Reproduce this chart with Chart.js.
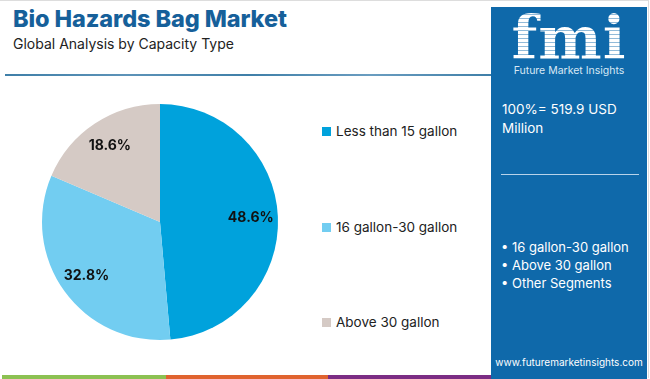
<!DOCTYPE html>
<html>
<head>
<meta charset="utf-8">
<script src="https://cdn.jsdelivr.net/npm/chart.js@4.4.1/dist/chart.umd.min.js"></script>
<style>
  html, body { margin:0; padding:0; background:#fff; }
  body { width:650px; height:379px; position:relative; overflow:hidden; font-family:"Inter","Open Sans",sans-serif; }
  #frame { position:absolute; left:0; top:0; width:648px; height:377px; border-top:1px solid #ddd; border-right:1px solid #ddd; }
  #title { position:absolute; left:13px; top:4px; font-size:23.5px; font-weight:800; color:#16609a; letter-spacing:-0.1px; }
  #subtitle { position:absolute; left:13px; top:35px; font-size:14px; color:#222; }
  #hline { position:absolute; left:5px; top:74px; width:486px; height:2px; background:linear-gradient(90deg,#3f7fa8,#5d93b8,#3f7fa8,#6a9dc0,#3f7fa8); }
  #chartwrap { position:absolute; left:0; top:100px; width:320px; height:244px; }
  #legend { position:absolute; left:322px; top:0; }
  .li { position:absolute; left:0; white-space:nowrap; font-size:13.5px; color:#222; }
  .li span.sw { display:inline-block; width:9px; height:9px; margin-right:5px; vertical-align:0px; }
  #panel { position:absolute; left:491px; top:7px; width:156px; height:372px; background:#0f69aa; color:#fff; }
  #logo { position:absolute; left:0; width:156px; top:0px; text-align:center; font-family:"DejaVu Serif",serif; font-weight:bold; font-size:60px; line-height:62px; letter-spacing:1px;
          background:repeating-linear-gradient(180deg,#fff 0 3px,rgba(255,255,255,0.55) 3px 4px); -webkit-background-clip:text; background-clip:text; color:transparent; }
  #logosub { position:absolute; left:0; width:156px; top:57px; text-align:center; font-size:10.5px; color:#d8e8f5; }
  #total { position:absolute; left:11px; top:93px; font-size:13.5px; line-height:19px; color:#fff; }
  #pline { position:absolute; left:10px; top:167px; width:138px; height:1px; background:#b8d3ea; }
  #segs { position:absolute; left:10px; top:231px; font-size:13px; line-height:18px; color:#fff; }
  #url { position:absolute; left:0; width:156px; top:349px; text-align:center; font-size:10px; color:#fff; }
  .strip { position:absolute; top:375px; height:4px; }
</style>
</head>
<body>
<div id="frame"></div>
<div id="title">Bio Hazards Bag Market</div>
<div id="subtitle">Global Analysis by Capacity Type</div>
<div id="hline"></div>
<div id="chartwrap"><canvas id="c"></canvas></div>
<div id="legend"></div>
<div id="panel">
  <div id="logo">fmi</div>
  <div id="logosub">Future Market Insights</div>
  <div id="total">100%= 519.9 USD<br>Million</div>
  <div id="pline"></div>
  <div id="segs"></div>
  <div id="url">www.futuremarketinsights.com</div>
</div>
<div class="strip" style="left:2px;width:164px;background:#8cc152;"></div>
<div class="strip" style="left:166px;width:162px;background:#e0632f;"></div>
<div class="strip" style="left:328px;width:163px;background:#7b2d84;"></div>
<script>
const categories = ["Less than 15 gallon", "16 gallon-30 gallon", "Above 30 gallon"];
const shares = [48.6, 32.8, 18.6];
const colors = ["#00a2dc", "#72cdf1", "#d5cac5"];
const otherSegments = ["16 gallon-30 gallon", "Above 30 gallon", "Other Segments"];

// legend
const legendTops = [123, 219, 314];
const lg = document.getElementById('legend');
categories.forEach((c, i) => {
  const d = document.createElement('div');
  d.className = 'li';
  d.style.top = legendTops[i] + 'px';
  d.innerHTML = '<span class="sw" style="background:' + colors[i] + '"></span>' + c;
  lg.appendChild(d);
});
document.getElementById('segs').innerHTML = otherSegments.map(s => '• ' + s).join('<br>');

const labelPlugin = {
  id: 'sliceLabels',
  afterDatasetsDraw(chart) {
    const ctx = chart.ctx;
    const meta = chart.getDatasetMeta(0);
    ctx.save();
    ctx.font = 'bold 14px "Inter", "DejaVu Sans", sans-serif';
    ctx.fillStyle = '#111';
    ctx.textAlign = 'center';
    ctx.textBaseline = 'middle';
    meta.data.forEach((arc, i) => {
      const p = arc.getProps(['x','y','startAngle','endAngle','outerRadius'], true);
      const a = (p.startAngle + p.endAngle) / 2;
      const r = p.outerRadius * 0.77;
      ctx.fillText(shares[i].toFixed(1) + '%', p.x + Math.cos(a) * r, p.y + Math.sin(a) * r);
    });
    ctx.restore();
  }
};

new Chart(document.getElementById('c'), {
  type: 'pie',
  data: {
    labels: categories,
    datasets: [{ data: shares, backgroundColor: colors, borderWidth: 0 }]
  },
  options: {
    responsive: true,
    maintainAspectRatio: false,
    animation: false,
    layout: { padding: 4 },
    plugins: { legend: { display: false }, tooltip: { enabled: false } }
  },
  plugins: [labelPlugin]
});
</script>
</body>
</html>
